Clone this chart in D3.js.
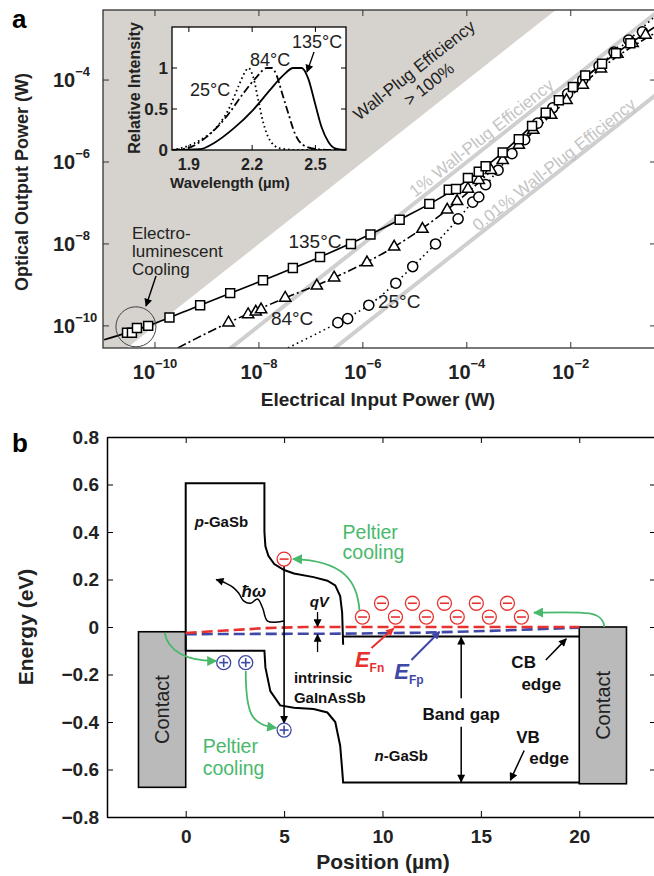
<!DOCTYPE html>
<html>
<head>
<meta charset="utf-8">
<script src="https://cdn.jsdelivr.net/npm/d3@7"></script>
<style>
body { margin: 0; background: #fff; }
svg { display: block; font-family: "Liberation Sans", Arial, sans-serif; }
</style>
</head>
<body>
<div id="chart"></div>
<script>
// ---- panel a: optical output vs electrical input (W) ----
const squares135 = [[2.9e-11,6.8e-11],[3.6e-11,6.8e-11],[4.5e-11,8.9e-11],[7.4e-11,1.0e-10],[1.9e-10,1.6e-10],
  [7.4e-10,3.2e-10],[2.8e-9,6.3e-10],[1.2e-8,1.3e-9],[4.5e-8,2.6e-9],[1.5e-7,4.8e-9],[5.9e-7,1.0e-8],
  [1.4e-6,1.7e-8],[5.1e-6,3.9e-8],[1.9e-5,9.5e-8],[4.5e-5,2.1e-7],[6.2e-5,2.2e-7],[1.05e-4,4.1e-7],
  [1.7e-4,5.8e-7],[2.3e-4,7.9e-7],[4.9e-4,1.7e-6],[1.0e-3,3.6e-6],[1.8e-3,7.6e-6],[3.3e-3,1.6e-5],
  [5.9e-3,3.2e-5],[1.1e-2,6.8e-5],[1.9e-2,1.3e-4],[4.0e-2,2.5e-4],[7.4e-2,4.5e-4],[0.14,7.9e-4]]
const triangles84 = [[2.6e-9,1.2e-10],[6.2e-9,1.9e-10],[8.7e-9,2.2e-10],[1.1e-8,2.5e-10],[3.2e-8,4.8e-10],
  [1.3e-7,9.5e-10],[2.8e-7,1.5e-9],[1.2e-6,3.5e-9],[4.0e-6,8.5e-9],[1.4e-5,2.3e-8],[4.2e-5,6.8e-8],
  [6.5e-5,1.1e-7],[1.05e-4,2.2e-7],[1.7e-4,3.6e-7],[2.9e-4,6.3e-7],[4.9e-4,1.1e-6],[1.0e-3,2.6e-6],
  [1.9e-3,6.0e-6],[4.2e-3,1.4e-5],[8.3e-3,3.2e-5],[1.7e-2,7.6e-5],[3.8e-2,1.9e-4],[7.9e-2,4.3e-4],
  [0.155,7.9e-4],[0.275,1.26e-3]]
const circles25 = [[3.3e-7,1.2e-10],[5.1e-7,1.5e-10],[1.3e-6,3.2e-10],[4.3e-6,1.1e-9],[9.1e-6,2.8e-9],
  [2.5e-5,1.0e-8],[6.8e-5,4.1e-8],[1.3e-4,1.05e-7],[1.7e-4,1.4e-7],[2.3e-4,2.8e-7],[4.0e-4,6.3e-7],
  [7.4e-4,1.6e-6],[1.3e-3,3.5e-6],[2.3e-3,8.9e-6],[4.5e-3,2.1e-5],[8.7e-3,4.6e-5],[1.7e-2,1.0e-4],
  [3.5e-2,2.2e-4],[6.8e-2,4.8e-4],[0.13,9.5e-4],[0.24,1.5e-3]]
// fitted curves
const fit135 = [[1.05e-11,4.6e-11],[7.4e-11,1.0e-10],[7.4e-10,3.2e-10],[1.2e-8,1.3e-9],[1.5e-7,4.8e-9],
  [5.1e-6,3.9e-8],[6.2e-5,2.3e-7],[4.9e-4,1.7e-6],[3.3e-3,1.6e-5],[4.0e-2,2.5e-4],[0.5,2.3e-3]]
const fit84 = [[2.75e-10,2.9e-11],[2.6e-9,1.2e-10],[3.2e-8,4.8e-10],[2.8e-7,1.5e-9],[4.0e-6,8.5e-9],
  [4.2e-5,6.8e-8],[4.9e-4,1.1e-6],[4.2e-3,1.4e-5],[3.8e-2,1.9e-4],[0.5,1.6e-3]]
const fit25 = [[3.6e-8,2.9e-11],[3.3e-7,1.2e-10],[1.3e-6,3.2e-10],[9.1e-6,2.8e-9],[6.8e-5,4.1e-8],
  [4.0e-4,6.3e-7],[2.3e-3,8.9e-6],[1.7e-2,1.0e-4],[0.13,9.5e-4],[0.5,4.4e-3]]
const wallPlug = [1e-2, 1e-4]
const wallPlugLabels = ["1% Wall-Plug Efficiency", "0.01% Wall-Plug Efficiency"]
const xTicksA = [1e-10, 1e-8, 1e-6, 1e-4, 1e-2]
const yTicksA = [1e-10, 1e-8, 1e-6, 1e-4]

// ---- inset: normalised spectra ----
const spec25 = [[1.82,0],[1.858,0.02],[1.953,0.12],[2.032,0.28],[2.095,0.53],[2.134,0.77],[2.166,0.95],
  [2.182,1.0],[2.205,0.89],[2.229,0.61],[2.253,0.33],[2.284,0.12],[2.332,0.02],[2.427,0],[2.645,0]]
const spec84 = [[1.82,0],[1.89,0.02],[1.984,0.16],[2.079,0.41],[2.158,0.69],[2.221,0.89],[2.269,1.0],
  [2.293,1.0],[2.316,0.91],[2.34,0.71],[2.371,0.45],[2.403,0.2],[2.442,0.06],[2.506,0.01],[2.583,0],[2.645,0]]
const spec135 = [[1.82,0],[1.953,0.01],[2.016,0.08],[2.111,0.26],[2.205,0.49],[2.284,0.73],[2.347,0.91],
  [2.395,1.0],[2.435,1.0],[2.466,0.87],[2.498,0.57],[2.529,0.28],[2.561,0.1],[2.593,0.02],[2.645,0]]
const xTicksI = [1.9, 2.2, 2.5]
const yTicksI = [0, 0.5, 1]

// ---- panel b: band diagram (position um, energy eV) ----
const pSideCB = [[0,-0.1],[0,0.605],[4,0.605],[4,0.40],[4.05,0.34],[4.2,0.30],[4.5,0.265],[5,0.24],[5.5,0.225],
  [6.5,0.21],[7.2,0.195],[7.6,0.175],[7.85,0.13],[7.95,0.06],[8,-0.075]]
const nSideCB = [[8,-0.04],[20,-0.04]]
const valenceBand = [[0,-0.1],[4,-0.1],[4.05,-0.17],[4.3,-0.27],[4.8,-0.33],[5.5,-0.34],[6.5,-0.345],
  [7.2,-0.36],[7.6,-0.40],[7.85,-0.5],[7.95,-0.6],[8,-0.655],[20,-0.655]]
const fermiN = [[0,-0.025],[2,-0.015],[4,-0.005],[6,0],[20,0]]
const fermiP = [[0,-0.03],[8,-0.028],[12,-0.024],[16,-0.015],[20,-0.003]]
const contacts = [[-2.4,-0.02,0,-0.675],[20,0,22.4,-0.66]]
const electrons = [[5,0.286],[8.98,0.042],[10.66,0.042],[12.23,0.042],[13.8,0.042],[15.43,0.042],[17.06,0.042],
  [9.95,0.1],[11.52,0.1],[13.15,0.1],[14.77,0.1],[16.35,0.1]]
const holes = [[1.93,-0.15],[3.05,-0.15],[5,-0.434]]
const xTicksB = [0, 5, 10, 15, 20]
const yTicksB = [-0.8, -0.6, -0.4, -0.2, 0, 0.2, 0.4, 0.6, 0.8]

const W = 654, H = 876
const green = "#48b96c", red = "#e8312f", blue = "#3f48a6"
const svg = d3.select("#chart").append("svg").attr("width", W).attr("height", H)
const defs = svg.append("defs")

function marker(id, color, w, h) {
    defs.append("marker").attr("id", id).attr("viewBox", "0 0 10 10")
        .attr("refX", 9).attr("refY", 5).attr("markerUnits", "userSpaceOnUse")
        .attr("markerWidth", w).attr("markerHeight", h).attr("orient", "auto")
        .append("path").attr("d", "M0,0L10,5L0,10z").attr("fill", color)
}
marker("ahBlack", "#000", 11, 8)
marker("ahGreen", green, 13, 10)
marker("ahRed", red, 11, 8)
marker("ahBlue", blue, 11, 8)

// ================= panel a =================
const xA = d3.scaleLog().domain([1e-11, Math.pow(10, -0.36)]).range([103, 656])
const yA = d3.scaleLog().domain([Math.pow(10, -10.54), Math.pow(10, -2.29)]).range([348, 10])
const [ax0, ax1] = xA.range(), [ay1, ay0] = yA.range()

defs.append("clipPath").attr("id", "clipA").append("rect")
    .attr("x", ax0).attr("y", ay0).attr("width", ax1 - ax0).attr("height", ay1 - ay0)

const gA = svg.append("g")
const plotA = gA.append("g").attr("clip-path", "url(#clipA)")

// region where wall-plug efficiency > 100 %
const gray = [[1e-13, 1e-13], [10, 10], [1e-13, 10]]
plotA.append("polygon")
    .attr("points", gray.map(d => [xA(d[0]), yA(d[1])].join(",")).join(" "))
    .attr("fill", "#d6d2cd")

const slopeDeg = Math.atan2(yA(1e-4) - yA(1e-10), xA(1e-4) - xA(1e-10)) * 180 / Math.PI
const rad = slopeDeg * Math.PI / 180
const nx = Math.sin(rad), ny = -Math.cos(rad)   // normal pointing up-left

wallPlug.forEach((eff, i) => {
    plotA.append("line")
        .attr("x1", xA(1e-13)).attr("y1", yA(1e-13 * eff))
        .attr("x2", xA(10)).attr("y2", yA(10 * eff))
        .attr("stroke", "#cfcfcf").attr("stroke-width", 4)
    const xs = [2.5e-4, 6.0e-3][i]
    const px = xA(xs) + nx * [9.5, 8][i], py = yA(xs * eff) + ny * [9.5, 8][i]
    gA.append("text").attr("transform", `translate(${px},${py}) rotate(${slopeDeg})`)
        .attr("text-anchor", "middle").attr("dominant-baseline", "central")
        .attr("font-size", 17).attr("fill", "#c4c4c4").text(wallPlugLabels[i])
})

const wp = gA.append("text").attr("transform", `translate(414,70) rotate(${slopeDeg})`)
    .attr("text-anchor", "middle").attr("font-size", 17).attr("fill", "#222")
wp.append("tspan").attr("x", 0).attr("y", 6).text("Wall-Plug Efficiency")
wp.append("tspan").attr("x", 3).attr("y", 26).text("> 100%")

const lineA = d3.line().x(d => xA(d[0])).y(d => yA(d[1])).curve(d3.curveMonotoneX)
const seriesA = [
    {pts: circles25, fit: fit25, sym: d3.symbolCircle, size: 80, dash: "1.6,3.4"},
    {pts: triangles84, fit: fit84, sym: d3.symbolTriangle, size: 55, dash: "9,3,2,3"},
    {pts: squares135, fit: fit135, sym: d3.symbolSquare, size: 80, dash: null}
]
seriesA.forEach(s => {
    plotA.append("path").attr("d", lineA(s.fit)).attr("fill", "none")
        .attr("stroke", "#000").attr("stroke-width", 1.6)
        .attr("stroke-dasharray", s.dash)
})
seriesA.forEach(s => {
    plotA.append("g").selectAll("path").data(s.pts).enter().append("path")
        .attr("d", d3.symbol(s.sym, s.size))
        .attr("transform", d => `translate(${xA(d[0])},${yA(d[1])})`)
        .attr("fill", "#fff").attr("stroke", "#000").attr("stroke-width", 1.5)
})

// electroluminescent cooling callout
gA.append("circle").attr("cx", xA(4.3e-11)).attr("cy", yA(9.5e-11)).attr("r", 20)
    .attr("fill", "none").attr("stroke", "#444").attr("stroke-width", 1)
const elc = gA.append("text").attr("font-size", 17).attr("fill", "#222")
;["Electro-", "luminescent", "Cooling"].forEach((t, i) =>
    elc.append("tspan").attr("x", 132).attr("y", 239 + i * 18).text(t))
gA.append("line").attr("x1", 156).attr("y1", 276).attr("x2", 146).attr("y2", 306)
    .attr("stroke", "#000").attr("stroke-width", 1.4).attr("marker-end", "url(#ahBlack)")

const tempA = [["135°C", 3.7e-8, 7.9e-9], ["84°C", 1.7e-8, 1.05e-10], ["25°C", 1.95e-6, 2.75e-10]]
tempA.forEach(t => {
    gA.append("text").attr("x", xA(t[1])).attr("y", yA(t[2])).attr("font-size", 19)
        .attr("fill", "#222").text(t[0])
})

// frame + ticks
gA.append("rect").attr("x", ax0).attr("y", ay0).attr("width", ax1 - ax0).attr("height", ay1 - ay0)
    .attr("fill", "none").attr("stroke", "#333").attr("stroke-width", 1.3)
xTicksA.forEach(v => {
    gA.append("line").attr("x1", xA(v)).attr("x2", xA(v)).attr("y1", ay1).attr("y2", ay1 - 6).attr("stroke", "#333")
    gA.append("line").attr("x1", xA(v)).attr("x2", xA(v)).attr("y1", ay0).attr("y2", ay0 + 6).attr("stroke", "#333")
    const t = gA.append("text").attr("x", xA(v)).attr("y", 379).attr("text-anchor", "middle")
        .attr("font-weight", "bold").attr("font-size", 20).attr("fill", "#222")
    t.append("tspan").text("10")
    t.append("tspan").attr("font-size", 13).attr("dy", -11).text("−" + Math.round(-Math.log10(v)))
})
yTicksA.forEach(v => {
    gA.append("line").attr("x1", ax0).attr("x2", ax0 + 6).attr("y1", yA(v)).attr("y2", yA(v)).attr("stroke", "#333")
    gA.append("line").attr("x1", ax1).attr("x2", ax1 - 6).attr("y1", yA(v)).attr("y2", yA(v)).attr("stroke", "#333")
    const t = gA.append("text").attr("x", 53).attr("y", yA(v) + 7)
        .attr("font-weight", "bold").attr("font-size", 20).attr("fill", "#222")
    t.append("tspan").text("10")
    t.append("tspan").attr("font-size", 13).attr("dy", -11).text("−" + Math.round(-Math.log10(v)))
})
gA.append("text").attr("x", 378).attr("y", 406).attr("text-anchor", "middle")
    .attr("font-weight", "bold").attr("font-size", 19).attr("fill", "#222").text("Electrical Input Power (W)")
gA.append("text").attr("transform", "translate(22,182) rotate(-90)").attr("text-anchor", "middle")
    .attr("dominant-baseline", "central").attr("font-weight", "bold").attr("font-size", 18)
    .attr("fill", "#222").text("Optical Output Power (W)")
gA.append("text").attr("x", 12).attr("y", 28).attr("font-weight", "bold").attr("font-size", 26).text("a")

// ---- inset ----
const xI = d3.scaleLinear().domain([1.82, 2.645]).range([172, 346])
const yI = d3.scaleLinear().domain([0, 1.5]).range([150, 27])
const gI = svg.append("g")
defs.append("clipPath").attr("id", "clipI").append("rect")
    .attr("x", 172).attr("y", 27).attr("width", 174).attr("height", 123)
gI.append("rect").attr("x", 172).attr("y", 27).attr("width", 174).attr("height", 123)
    .attr("fill", "#fff")
const lineI = d3.line().x(d => xI(d[0])).y(d => yI(d[1])).curve(d3.curveMonotoneX)
const specs = [[spec25, "1.6,3"], [spec84, "8,3,2,3"], [spec135, null]]
specs.forEach(s => {
    gI.append("path").attr("d", lineI(s[0])).attr("clip-path", "url(#clipI)")
        .attr("fill", "none").attr("stroke", "#000").attr("stroke-width", 1.8)
        .attr("stroke-dasharray", s[1])
})
gI.append("rect").attr("x", 172).attr("y", 27).attr("width", 174).attr("height", 123)
    .attr("fill", "none").attr("stroke", "#000").attr("stroke-width", 1.3)
xTicksI.forEach(v => {
    gI.append("line").attr("x1", xI(v)).attr("x2", xI(v)).attr("y1", 150).attr("y2", 145).attr("stroke", "#000")
    gI.append("line").attr("x1", xI(v)).attr("x2", xI(v)).attr("y1", 27).attr("y2", 32).attr("stroke", "#000")
    gI.append("text").attr("x", xI(v)).attr("y", 170).attr("text-anchor", "middle")
        .attr("font-weight", "bold").attr("font-size", 16).attr("fill", "#222").text(v.toFixed(1))
})
yTicksI.forEach(v => {
    gI.append("line").attr("x1", 172).attr("x2", 177).attr("y1", yI(v)).attr("y2", yI(v)).attr("stroke", "#000")
    gI.append("line").attr("x1", 346).attr("x2", 341).attr("y1", yI(v)).attr("y2", yI(v)).attr("stroke", "#000")
    gI.append("text").attr("x", 168).attr("y", yI(v) + 6).attr("text-anchor", "end")
        .attr("font-weight", "bold").attr("font-size", 17).attr("fill", "#222").text(v)
})
gI.append("text").attr("x", 230).attr("y", 188).attr("text-anchor", "middle")
    .attr("font-weight", "bold").attr("font-size", 15).attr("fill", "#222").text("Wavelength (µm)")
gI.append("text").attr("transform", "translate(134,88) rotate(-90)").attr("text-anchor", "middle")
    .attr("dominant-baseline", "central").attr("font-weight", "bold").attr("font-size", 16)
    .attr("fill", "#222").text("Relative Intensity")
;[["25°C", 190, 96], ["84°C", 250, 66], ["135°C", 292, 48]].forEach(t =>
    gI.append("text").attr("x", t[1]).attr("y", t[2]).attr("font-size", 18).attr("fill", "#222").text(t[0]))
gI.append("line").attr("x1", 314).attr("y1", 52).attr("x2", 307).attr("y2", 72)
    .attr("stroke", "#000").attr("stroke-width", 1.3).attr("marker-end", "url(#ahBlack)")

// ================= panel b =================
const xB = d3.scaleLinear().domain([-4, 23.9]).range([107, 656])
const yB = d3.scaleLinear().domain([-0.8, 0.8]).range([817, 437])
const gB = svg.append("g")
const lineB = d3.line().x(d => xB(d[0])).y(d => yB(d[1]))

contacts.forEach(c => {
    gB.append("rect").attr("x", xB(c[0])).attr("y", yB(c[1]))
        .attr("width", xB(c[2]) - xB(c[0])).attr("height", yB(c[3]) - yB(c[1]))
        .attr("fill", "#bababa").attr("stroke", "#000").attr("stroke-width", 1.6)
})
;[pSideCB, nSideCB, valenceBand].forEach(b => {
    gB.append("path").attr("d", lineB(b)).attr("fill", "none")
        .attr("stroke", "#000").attr("stroke-width", 2)
})
gB.append("path").attr("d", lineB(fermiP)).attr("fill", "none").attr("stroke", blue)
    .attr("stroke-width", 2.6).attr("stroke-dasharray", "11,5")
gB.append("path").attr("d", lineB(fermiN)).attr("fill", "none").attr("stroke", red)
    .attr("stroke-width", 2.6).attr("stroke-dasharray", "11,5")

// radiative recombination arrow at x = 5
gB.append("line").attr("x1", xB(5)).attr("x2", xB(5)).attr("y1", yB(0.286) + 7).attr("y2", yB(-0.434) - 7)
    .attr("stroke", "#000").attr("stroke-width", 1.6).attr("marker-end", "url(#ahBlack)")
// emitted photon
const photon = [[5,0.025],[4.16,0.025],[3.91,0.08],[3.65,0.118],[3.3,0.1],[2.94,0.11],[2.69,0.143],
    [2.39,0.168],[2.03,0.185],[1.55,0.2]]
gB.append("path").attr("d", d3.line().x(d => xB(d[0])).y(d => yB(d[1])).curve(d3.curveCatmullRom)(photon))
    .attr("fill", "none").attr("stroke", "#000").attr("stroke-width", 1.5).attr("marker-end", "url(#ahBlack)")

// carriers
function carrier(d, color, plus) {
    const g = gB.append("g").attr("transform", `translate(${xB(d[0])},${yB(d[1])})`)
    g.append("circle").attr("r", 7).attr("fill", "#fff").attr("stroke", color).attr("stroke-width", 1.3)
    g.append("line").attr("x1", -4.5).attr("x2", 4.5).attr("stroke", color).attr("stroke-width", 1.6)
    if (plus) g.append("line").attr("y1", -4.5).attr("y2", 4.5).attr("stroke", color).attr("stroke-width", 1.6)
}
electrons.forEach(d => carrier(d, red, false))
holes.forEach(d => carrier(d, blue, true))

// Peltier cooling arrows (cubic curves, data units)
const peltier = [
    [[8.83,0.07],[8.73,0.19],[8.07,0.28],[5.45,0.286]],
    [[21.27,0],[21.2,0.07],[20.3,0.065],[17.7,0.06]],
    [[-1.07,-0.025],[-0.9,-0.1],[0,-0.145],[1.55,-0.143]],
    [[3.05,-0.185],[3.05,-0.38],[3.4,-0.41],[4.6,-0.425]]
]
peltier.forEach(p => {
    const q = p.map(d => [xB(d[0]), yB(d[1])])
    gB.append("path").attr("d", `M${q[0]}C${q[1]} ${q[2]} ${q[3]}`).attr("fill", "none")
        .attr("stroke", green).attr("stroke-width", 1.8).attr("marker-end", "url(#ahGreen)")
})

function arrowB(a, b, id, color, w) {
    gB.append("line").attr("x1", xB(a[0])).attr("y1", yB(a[1])).attr("x2", xB(b[0])).attr("y2", yB(b[1]))
        .attr("stroke", color).attr("stroke-width", w || 1.6).attr("marker-end", `url(#${id})`)
}
arrowB([6.7,0.063],[6.7,0.002],"ahBlack","#000",1.3)
arrowB([6.7,-0.105],[6.7,-0.032],"ahBlack","#000",1.3)
arrowB([9.44,-0.088],[10.56,-0.006],"ahRed",red,2)
arrowB([11.47,-0.139],[12.9,-0.02],"ahBlue",blue,2)
arrowB([18.3,-0.139],[19.34,-0.05],"ahBlack","#000",1.5)
arrowB([17.2,-0.52],[16.5,-0.645],"ahBlack","#000",1.5)
arrowB([14,-0.3],[14,-0.043],"ahBlack","#000",1.5)
arrowB([14,-0.42],[14,-0.652],"ahBlack","#000",1.5)

function label(x, y, parts, opts) {
    const t = gB.append("text").attr("x", xB(x)).attr("y", yB(y))
        .attr("font-size", opts.size).attr("fill", opts.color || "#111")
        .attr("font-weight", opts.bold ? "bold" : "normal")
        .attr("text-anchor", opts.anchor || "start")
    parts.forEach(p => {
        const s = t.append("tspan").text(p.t)
        if (p.italic) s.attr("font-style", "italic")
        if (p.size) s.attr("font-size", p.size)
        if (p.dy) s.attr("dy", p.dy)
    })
    return t
}
label(0.46, 0.42, [{t: "p", italic: true}, {t: "-GaSb"}], {size: 15, bold: true})
label(5.5, -0.235, [{t: "intrinsic"}], {size: 15, bold: true})
label(5.5, -0.322, [{t: "GaInAsSb"}], {size: 15, bold: true})
label(9.6, -0.564, [{t: "n", italic: true}, {t: "-GaSb"}], {size: 15, bold: true})
label(2.84, 0.126, [{t: "ħω", italic: true}], {size: 17, bold: true})
label(6.3, 0.084, [{t: "qV", italic: true}], {size: 15, bold: true})
label(16.55, -0.173, [{t: "CB"}], {size: 17, bold: true})
label(17.06, -0.265, [{t: "edge"}], {size: 17, bold: true})
label(16.8, -0.488, [{t: "VB"}], {size: 17, bold: true})
label(17.46, -0.577, [{t: "edge"}], {size: 17, bold: true})
label(14, -0.39, [{t: "Band gap"}], {size: 17, bold: true, anchor: "middle"})
label(8.6, -0.168, [{t: "E", italic: true}, {t: "Fn", size: 12, dy: 5}], {size: 22, bold: true, color: red})
label(10.6, -0.218, [{t: "E", italic: true}, {t: "Fp", size: 12, dy: 5}], {size: 22, bold: true, color: blue})
label(7.97, 0.37, [{t: "Peltier"}], {size: 19.5, color: green})
label(7.97, 0.286, [{t: "cooling"}], {size: 19.5, color: green})
label(0.86, -0.53, [{t: "Peltier"}], {size: 19.5, color: green})
label(0.86, -0.623, [{t: "cooling"}], {size: 19.5, color: green})
contacts.forEach(c => {
    gB.append("text").attr("transform", `translate(${xB((c[0] + c[2]) / 2)},${yB((c[1] + c[3]) / 2)}) rotate(-90)`)
        .attr("text-anchor", "middle").attr("dominant-baseline", "central")
        .attr("font-size", 20).attr("fill", "#222").text("Contact")
})

// axes
const fmtB = d => d === 0 ? "0" : d3.format(".1f")(d)
const axB = [
    [d3.axisBottom(xB).tickValues(xTicksB).tickFormat(d3.format("d")).tickPadding(13), `translate(0,${yB(-0.8)})`],
    [d3.axisTop(xB).tickValues(xTicksB).tickFormat(""), `translate(0,${yB(0.8)})`],
    [d3.axisLeft(yB).tickValues(yTicksB).tickFormat(fmtB).tickPadding(8), `translate(${xB(-4)},0)`],
    [d3.axisRight(yB).tickValues(yTicksB).tickFormat(""), `translate(${xB(23.9)},0)`]
]
axB.forEach(a => {
    const g = gB.append("g").attr("transform", a[1])
        .call(a[0].tickSizeInner(-6).tickSizeOuter(0))
    g.select(".domain").attr("stroke-width", 1.5)
    g.selectAll("text").attr("font-size", 19).attr("font-weight", "bold")
        .attr("font-family", '"Liberation Sans", Arial, sans-serif').attr("fill", "#222")
})
gB.append("text").attr("x", 383).attr("y", 869).attr("text-anchor", "middle")
    .attr("font-weight", "bold").attr("font-size", 21).attr("fill", "#222").text("Position (µm)")
gB.append("text").attr("transform", `translate(25,${yB(0)}) rotate(-90)`).attr("text-anchor", "middle")
    .attr("dominant-baseline", "central").attr("font-weight", "bold").attr("font-size", 21)
    .attr("fill", "#222").text("Energy (eV)")
svg.append("text").attr("x", 12).attr("y", 452).attr("font-weight", "bold").attr("font-size", 26).text("b")
</script>
</body>
</html>
